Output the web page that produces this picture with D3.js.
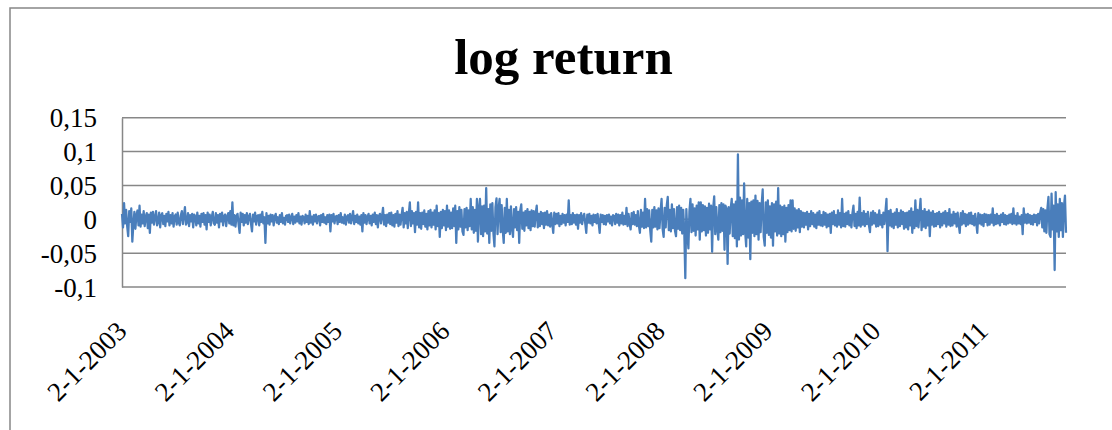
<!DOCTYPE html>
<html>
<head>
<meta charset="utf-8">
<script src="https://cdn.jsdelivr.net/npm/d3@7"></script>
<style>
  html, body { margin: 0; padding: 0; background: #fff; }
  svg { display: block; }
  text { font-family: "Liberation Serif", "Times New Roman", serif; fill: #000; }
</style>
</head>
<body>
<svg id="chart" width="1112" height="430"></svg>
<script>
// ---- data (half-weekly samples of the log return series) ----
const title = "log return";
const startDate = new Date(2003, 0, 2);
const sampleStepHours = 84; // one value every 3.5 days
const returns = [
  .008,-.012,.024,-.006,.014,-.010,-.025,.012,-.004,.016,-.033,-.008,.011,-.014,.006,.013,-.009,.020,-.011,.007,
  -.006,.012,-.010,.004,.009,-.013,.007,-.020,.010,-.005,.011,-.008,.003,.012,-.009,-.004,.010,-.012,.006,.009,
  -.007,.005,-.010,.008,-.003,.011,-.009,.006,-.006,.009,-.011,.004,.007,-.008,.010,-.005,-.009,.006,.012,-.007,
  .005,.018,-.008,-.004,.009,-.010,.006,-.003,.008,-.012,.007,.004,-.009,.010,-.006,.005,-.011,.008,-.004,.009,
  -.008,.006,-.015,.010,-.004,.007,-.009,.003,.011,-.006,-.008,.009,-.005,.006,-.012,.008,-.003,.010,-.009,.005,
  .007,-.010,.004,.009,-.006,.012,-.008,.025,-.009,.006,-.011,.005,.008,-.007,-.020,.010,-.004,.008,-.009,.006,
  -.005,.009,-.007,.004,.008,-.006,-.018,.007,-.003,.010,-.008,.005,.006,-.009,.007,-.004,.011,-.006,.003,-.035,
  .009,-.006,.005,-.008,.007,-.003,.006,-.009,.004,.008,-.005,.003,-.007,.006,-.004,.009,-.006,.002,-.008,.005,
  .006,-.004,.007,-.006,.003,.008,-.007,.004,-.005,.006,-.003,.009,-.006,.004,-.008,.005,.003,-.006,.007,-.004,
  .005,-.007,.012,-.005,.004,-.008,.006,-.003,.007,-.006,.004,.005,-.009,.006,-.004,.008,-.005,.003,-.007,.006,
  -.004,.007,-.018,.006,-.003,.008,-.006,.004,.005,-.007,.006,-.004,.009,-.005,.003,-.006,.007,-.008,.004,.006,
  -.005,.008,-.006,.003,.012,-.007,.005,-.004,.007,-.006,.004,-.008,.006,-.018,.009,-.005,.006,-.007,.004,.008,
  -.006,.005,-.009,.007,-.004,.010,-.007,.006,-.012,.005,.008,-.006,.004,.017,-.008,.006,-.010,.007,-.005,.009,
  -.007,.010,-.009,.006,-.011,.008,-.005,.012,-.010,.007,-.008,.006,.017,-.012,.009,-.006,.011,-.013,.008,.025,
  -.010,.012,-.006,.009,-.019,.011,-.008,.025,-.012,.009,-.014,.010,-.007,.013,-.011,.008,-.015,.012,-.009,.014,
  -.012,.010,-.008,.013,-.015,.020,-.010,.009,-.026,.011,-.013,.014,-.009,.012,-.016,.020,-.011,.013,-.014,.010,
  -.013,.016,-.010,.020,-.035,.012,-.015,.018,-.011,.014,-.018,-.023,.015,-.012,.017,-.016,.013,-.010,.030,-.015,
  .018,-.020,.014,-.017,.030,-.033,.016,.030,-.022,.019,-.025,.020,-.018,.046,-.021,.015,-.035,.022,-.017,.024,
  -.020,-.040,.018,.031,-.022,.016,.030,-.019,.021,-.015,-.035,.017,-.020,.030,-.018,.014,-.022,.019,-.013,-.026,
  .015,-.012,.018,-.016,.011,-.035,.013,.022,-.014,.010,-.017,.012,-.009,.015,-.013,.011,-.016,.013,-.010,.012,
  -.011,.009,.020,-.012,.008,-.010,.011,-.007,.009,-.013,.010,-.008,.012,-.009,.007,-.011,.009,-.006,-.020,.010,
  -.007,.008,-.006,.009,-.010,.005,-.007,.008,-.005,.006,-.009,.007,-.004,.028,-.008,.006,-.007,.009,-.005,.006,
  -.008,.007,-.014,.006,-.005,.009,-.007,.004,.008,-.006,-.020,.007,-.005,.008,-.006,.005,-.009,.007,-.004,.006,
  -.006,.008,-.005,-.020,.007,-.004,.006,-.007,.005,-.008,.006,-.003,.007,-.006,.004,-.009,.006,.005,-.007,.008,
  -.005,.007,-.009,.006,-.006,.010,-.008,.005,-.007,.017,-.010,.008,-.006,-.015,.009,-.007,.011,-.008,.006,-.010,
  .012,-.009,-.020,.014,-.011,.010,-.013,.030,-.012,.015,-.010,.013,-.016,-.033,.014,-.012,.018,-.011,.013,-.015,
  .016,-.013,.012,.030,-.014,-.026,.017,-.012,.020,.033,-.016,.014,-.018,.022,-.013,.015,-.017,-.025,.018,-.014,
  .020,-.016,.017,-.021,.014,-.018,-.087,.015,-.020,-.043,.012,.030,-.019,.022,-.017,.016,-.024,.020,-.015,.025,
  -.030,.025,-.018,.021,-.016,.019,-.024,.017,-.020,.023,-.015,.020,-.048,.016,.034,-.022,.018,-.014,-.030,.021,
  -.019,.024,-.017,.022,-.045,.020,.015,-.066,.018,-.021,.016,.030,-.025,.022,-.028,.026,-.040,.096,-.030,.032,
  -.024,.028,-.022,.053,-.018,-.040,.030,-.027,.024,-.059,.026,-.020,.028,-.025,.035,-.022,.027,-.030,.024,-.019,
  .022,.044,-.026,-.039,.025,-.020,.028,-.023,.019,-.027,.024,-.039,.022,-.018,.026,-.024,.046,-.021,.020,-.025,
  .018,-.022,.020,-.033,.017,-.019,.021,-.016,.028,-.018,.028,-.014,.016,-.017,.013,-.012,.015,-.019,.012,-.011,
  .010,-.012,.009,-.008,.011,-.015,.008,-.010,.012,-.007,.009,-.011,.007,-.013,.010,-.008,.012,-.009,.006,-.010,
  .011,-.008,.009,-.012,.007,-.010,.008,-.020,.010,-.007,.012,-.009,.006,-.011,.013,-.008,.009,-.012,.030,-.010,
  .008,-.011,.010,-.007,.012,-.009,.006,-.012,.009,.020,-.010,.008,-.013,.011,-.009,.032,-.011,.009,-.008,.012,
  -.010,.008,-.007,.011,-.009,-.019,.010,-.008,.012,-.006,.009,-.011,.007,-.010,.013,-.008,.006,-.012,.010,-.007,
  .011,.030,-.047,.012,-.009,.014,-.011,.008,-.013,.010,-.008,.015,-.012,.009,-.010,.013,-.007,.011,-.014,.009,
  -.012,.010,-.015,.012,-.009,.016,-.020,.011,-.013,.028,-.010,.014,-.012,.009,.030,-.016,.012,-.011,.015,-.013,
  .011,-.009,.013,-.025,.010,-.008,.012,-.011,.008,-.010,.009,-.007,.011,-.012,.008,-.009,.010,-.006,.012,-.011,
  .009,-.008,.015,-.010,.007,-.009,.011,-.006,.008,-.011,.010,-.007,-.020,.009,-.008,.012,-.006,.008,-.010,.007,
  -.008,.009,-.006,.010,-.007,.005,-.009,.008,-.005,-.020,.009,-.006,.007,-.008,.006,-.010,.008,-.004,.007,-.009,
  .006,-.008,.007,-.005,.016,-.009,.006,-.007,.008,-.006,.005,-.009,.007,-.004,.009,-.007,.006,-.008,.005,-.006,
  .007,-.005,.008,-.007,.016,-.006,.005,-.008,.009,-.006,.004,-.007,.006,-.022,.016,-.005,.007,-.006,.008,-.005,
  .006,-.007,.005,-.008,.007,-.004,.006,-.009,.008,-.006,.010,.017,-.012,.015,-.018,.013,-.020,.016,.033,-.022,
  -.026,.038,-.015,.020,-.075,.040,-.018,.022,-.026,.030,-.016,.024,-.026,.019,.035,-.020
];
const tickYears = [2003, 2004, 2005, 2006, 2007, 2008, 2009, 2010, 2011];
const xTickLabels = ["2-1-2003","2-1-2004","2-1-2005","2-1-2006","2-1-2007","2-1-2008","2-1-2009","2-1-2010","2-1-2011"];
const yTicks = [-0.1, -0.05, 0, 0.05, 0.1, 0.15];
const yTickLabels = ["-0,1", "-0,05", "0", "0,05", "0,1", "0,15"];

// ---- layout ----
const svg = d3.select("#chart");
const plot = { left: 122, right: 1066, top: 117.7, bottom: 287 };
const gridColor = "#878787";

const series = returns.map((v, i) => ({ date: d3.timeHour.offset(startDate, sampleStepHours * i), value: v }));
const tickDates = tickYears.map(y => new Date(y, 0, 2));

const x = d3.scaleTime()
  .domain(d3.extent(series, d => d.date))
  .range([plot.left, plot.right]);
const y = d3.scaleLinear()
  .domain([-0.1, 0.15])
  .range([plot.bottom, plot.top]);

// outer chart border (extends beyond the captured area)
svg.append("rect")
  .attr("x", 10).attr("y", 8)
  .attr("width", 1200).attr("height", 500)
  .attr("fill", "none").attr("stroke", gridColor).attr("stroke-width", 1.5);

// title
svg.append("text")
  .attr("x", 563.5).attr("y", 74)
  .attr("text-anchor", "middle")
  .style("font-size", "51px").style("font-weight", "bold")
  .text(title);

// gridlines
svg.append("g")
  .selectAll("line")
  .data(yTicks)
  .join("line")
  .attr("x1", plot.left).attr("x2", plot.right)
  .attr("y1", d => y(d)).attr("y2", d => y(d))
  .attr("stroke", gridColor).attr("stroke-width", 1.5);

// y axis
const yAxis = svg.append("g")
  .attr("transform", `translate(${plot.left},0)`)
  .call(d3.axisLeft(y).tickValues(yTicks).tickSize(0).tickPadding(25)
    .tickFormat((d, i) => yTickLabels[i]));
yAxis.select(".domain").attr("stroke", gridColor).attr("stroke-width", 1.5);
yAxis.selectAll("text")
  .attr("dy", "0.34em")
  .style("font-size", "27px")
  .style("font-family", "'Liberation Serif', serif");

// x axis
const xAxis = svg.append("g")
  .attr("transform", `translate(0,${plot.bottom})`)
  .call(d3.axisBottom(x).tickValues(tickDates).tickSize(0)
    .tickFormat((d, i) => xTickLabels[i]));
xAxis.select(".domain").remove();
xAxis.selectAll("text")
  .attr("x", 0).attr("y", 0).attr("dy", 0)
  .attr("text-anchor", "end")
  .attr("transform", "translate(5.7,45.7) rotate(-45)")
  .style("font-size", "27px")
  .style("font-family", "'Liberation Serif', serif");

// series line
const line = d3.line()
  .x(d => x(d.date))
  .y(d => y(d.value));
svg.append("path")
  .datum(series)
  .attr("fill", "none")
  .attr("stroke", "#4a7ebb")
  .attr("stroke-width", 2.25)
  .attr("stroke-linejoin", "round")
  .attr("d", line);
</script>
</body>
</html>
